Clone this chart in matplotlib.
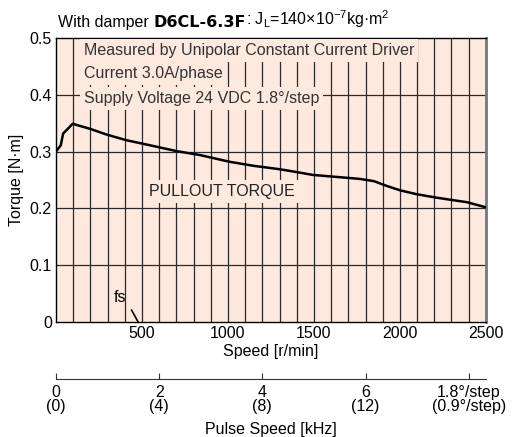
import numpy as np
import matplotlib
matplotlib.use("Agg")
import matplotlib.pyplot as plt
from matplotlib import font_manager

# pullout torque curve
speed = [0, 20, 28, 42, 62, 97, 200, 295, 411, 550, 700, 837, 1012, 1150, 1302,
         1400, 1494, 1651, 1767, 1850, 1920, 2000, 2098, 2213, 2300, 2390, 2500]
torque = [0.300, 0.308, 0.311, 0.332, 0.338, 0.349, 0.340, 0.330, 0.320, 0.311,
          0.301, 0.294, 0.282, 0.275, 0.269, 0.264, 0.259, 0.255, 0.252, 0.248,
          0.240, 0.232, 0.225, 0.219, 0.215, 0.211, 0.202]

y_ticks = [0, 0.1, 0.2, 0.3, 0.4, 0.5]
y_labels = ["0", "0.1", "0.2", "0.3", "0.4", "0.5"]
x_ticks = [500, 1000, 1500, 2000, 2500]
pulse_rpm = [0, 600, 1200, 1800, 2400]
pulse_labels = ["0\n(0)", "2\n(4)", "4\n(8)", "6\n(12)", "1.8°/step\n(0.9°/step)"]
notes = ["Measured by Unipolar Constant Current Driver",
         "Current 3.0A/phase",
         "Supply Voltage 24 VDC 1.8°/step"]

names = {f.name for f in font_manager.fontManager.ttflist}
fam = "Liberation Sans Narrow" if "Liberation Sans Narrow" in names else "Liberation Sans"
plt.rcParams['font.family'] = [fam, 'DejaVu Sans']
plt.rcParams['mathtext.default'] = 'regular'

bg = "#fde9dd"
gc = "#2a2a2a"
fs_ = 11.5

fig = plt.figure(figsize=(5.18, 4.37), dpi=100)
ax = fig.add_axes([0.108, 0.263, 0.830, 0.650])
ax.set_facecolor(bg)
ax.set_xlim(0, 2500)
ax.set_ylim(0, 0.5)

for xv in range(100, 2500, 100):
    ax.axvline(xv, color=gc, lw=0.9, zorder=1)
for yv in y_ticks[1:-1]:
    ax.axhline(yv, color=gc, lw=0.9, zorder=1)

ax.plot(speed, torque, color="black", lw=1.8, zorder=4)

ax.set_yticks(y_ticks)
ax.set_yticklabels(y_labels, fontsize=fs_)
ax.set_xticks(x_ticks)
ax.set_xticklabels([str(v) for v in x_ticks], fontsize=fs_)
ax.tick_params(length=0, pad=3)
for s in ["left", "top", "bottom"]:
    ax.spines[s].set_color("black")
    ax.spines[s].set_linewidth(1.0)
ax.spines["right"].set_color("#777777")
ax.spines["right"].set_linewidth(2.0)
ax.set_ylabel("Torque [N·m]", fontsize=fs_, labelpad=4)
ax.set_xlabel("Speed [r/min]", fontsize=fs_, labelpad=2)

# notes box with background hiding grid
ny = [0.478, 0.437, 0.394]
for t, yv in zip(notes, ny):
    ax.text(163, yv, t, fontsize=fs_, color="#333333", va="center", ha="left", zorder=3,
            bbox=dict(boxstyle="square,pad=0.25", fc=bg, ec="none"))
ax.text(965, 0.229, "PULLOUT TORQUE", fontsize=fs_, color="#222222", va="center",
        ha="center", zorder=3, bbox=dict(boxstyle="square,pad=0.25", fc=bg, ec="none"))

# fs marker
ax.text(375, 0.043, "fs", fontsize=fs_, ha="center", va="center", zorder=3)
ax.plot([440, 478], [0.021, 0.0], color="black", lw=1.2, zorder=4, clip_on=False)

# title in pieces
t1 = fig.text(0.112, 0.938, "With damper ", fontsize=fs_, va="baseline")
t2 = ax.annotate("D6CL-6.3F", xy=(1, 0), xycoords=t1, va="bottom", fontsize=fs_,
                 fontweight="bold", family=["DejaVu Sans"])
ax.annotate(r": J$_{L}$=140×10$^{-7}$kg·m$^{2}$", xy=(1, 0), xycoords=t2, va="bottom",
            fontsize=fs_)

# pulse speed scale
ax2 = fig.add_axes([0.108, 0.1327, 0.830, 0.0001])
ax2.set_xlim(0, 2500)
ax2.set_yticks([])
for s in ["left", "right", "top"]:
    ax2.spines[s].set_visible(False)
ax2.spines["bottom"].set_color("#333333")
ax2.set_xticks(pulse_rpm)
ax2.set_xticklabels(pulse_labels, fontsize=fs_, linespacing=0.95)
ax2.tick_params(axis="x", direction="in", length=4, color="#333333", pad=4)
ax2.set_xlabel("Pulse Speed [kHz]", fontsize=fs_, labelpad=6)

fig.savefig("out.png", dpi=100)
